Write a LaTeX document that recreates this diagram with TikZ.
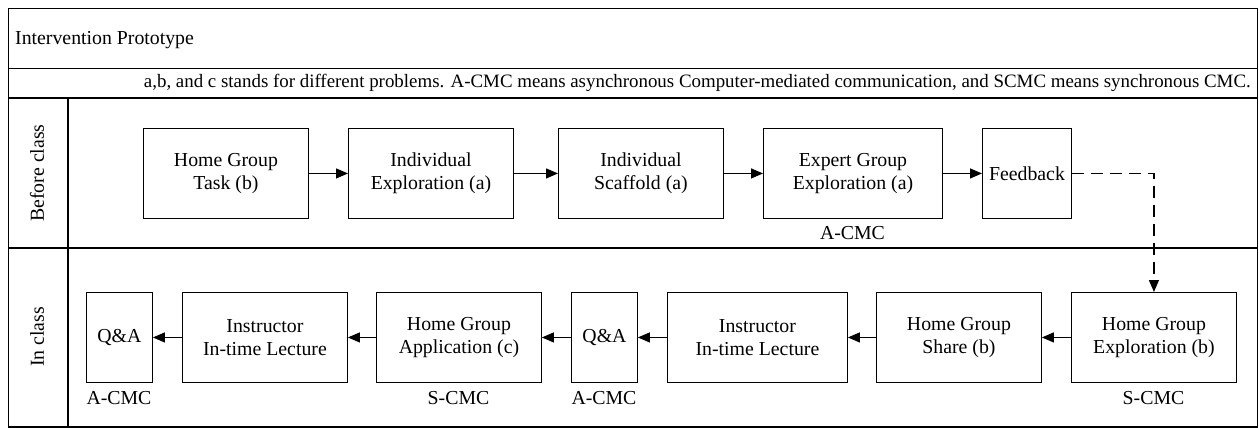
\documentclass[tikz,border=0pt]{standalone}
\usepackage{fontspec}
\setmainfont{Liberation Serif}
\usetikzlibrary{arrows.meta,positioning}
\tikzset{
  proc/.style={draw, line width=0.9pt, minimum height=90pt, inner sep=2pt, align=center, anchor=north west, font=\fontsize{19.8}{23}\selectfont},
  lab/.style={font=\fontsize{19.8}{23}\selectfont, inner sep=0pt},
  flow/.style={line width=1.2pt, -{Triangle[length=12pt,width=10pt]}},
  frame/.style={line width=1.2pt},
  lane/.style={line width=1.8pt}
}
\begin{document}
\begin{tikzpicture}[x=1pt,y=-1pt]
\useasboundingbox (0,0) rectangle (1259,428);
% frame
\draw[frame] (8.5,8.5) rectangle (1257.5,427);
\draw[frame] (8.5,68.5) -- (1257.5,68.5);
\draw[lane] (8.5,98) -- (1257.5,98);
\draw[lane] (8.5,248) -- (1257.5,248);
\draw[frame] (68,98) -- (68,427);
\node[lab, anchor=west] (title) at (15,40) {Intervention Prototype};
\node[lab, anchor=east, font=\fontsize{18.9}{23}\selectfont] (note) at (1251,83) {a,b, and c stands for different problems. A-CMC means asynchronous Computer-mediated communication, and SCMC means synchronous CMC.};
\node[lab, rotate=90] (before) at (37,173) {Before class};
\node[lab, rotate=90] (inclass) at (37,337) {In class};
% before class
\node[proc, minimum width=165pt] (t1) at (143,128) {Home Group\\Task (b)};
\node[proc, minimum width=165pt] (t2) at (348,128) {Individual\\Exploration (a)};
\node[proc, minimum width=165pt] (t3) at (558,128) {Individual\\Scaffold (a)};
\node[proc, minimum width=179pt] (t4) at (763,128) {Expert Group\\Exploration (a)};
\node[proc, minimum width=89pt] (t5) at (982,128) {Feedback};
\node[lab] (c4) at (852.5,233) {A-CMC};
% in class
\node[proc, minimum width=165pt] (i1) at (1071,292) {Home Group\\Exploration (b)};
\node[proc, minimum width=165pt] (i2) at (876,292) {Home Group\\Share (b)};
\node[proc, minimum width=180pt] (i3) at (667,292) {Instructor\\In-time Lecture};
\node[proc, minimum width=66pt] (i4) at (571,292) {Q\&A};
\node[proc, minimum width=165pt] (i5) at (376,292) {Home Group\\Application (c)};
\node[proc, minimum width=165pt] (i6) at (182,292) {Instructor\\In-time Lecture};
\node[proc, minimum width=66pt] (i7) at (86,292) {Q\&A};
\node[lab] (ci1) at (1153.5,398) {S-CMC};
\node[lab] (ci4) at (604,398) {A-CMC};
\node[lab] (ci5) at (458.5,398) {S-CMC};
\node[lab] (ci7) at (119,398) {A-CMC};
% arrows
\draw[flow] (t1) -- (t2);
\draw[flow] (t2) -- (t3);
\draw[flow] (t3) -- (t4);
\draw[flow] (t4) -- (t5);
\coordinate (bend) at (i1.north |- t5.east);
\draw[flow, dash pattern=on 12pt off 7pt] (t5.east) -- (bend) -- (i1.north);
\draw[flow] (i1) -- (i2);
\draw[flow] (i2) -- (i3);
\draw[flow] (i3) -- (i4);
\draw[flow] (i4) -- (i5);
\draw[flow] (i5) -- (i6);
\draw[flow] (i6) -- (i7);
\end{tikzpicture}
\end{document}
